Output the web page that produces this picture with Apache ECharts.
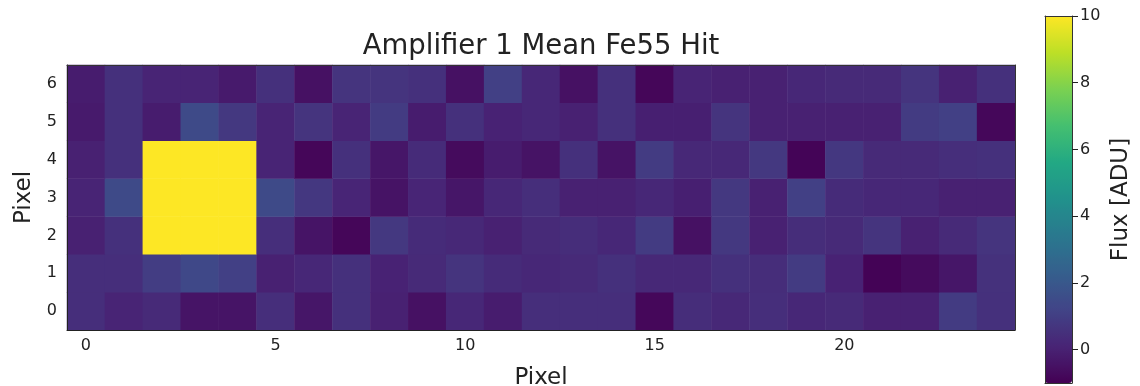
<!DOCTYPE html>
<html>
<head>
<meta charset="utf-8">
<script src="https://cdn.jsdelivr.net/npm/echarts@6/dist/echarts.min.js"></script>
<style>
  html, body { margin: 0; padding: 0; background: #fff; }
  #chart { width: 1140px; height: 386px; }
</style>
</head>
<body>
<div id="chart"></div>
<script>
// pixel indices along each axis
const xPixels = ['0','1','2','3','4','5','6','7','8','9','10','11','12','13','14','15','16','17','18','19','20','21','22','23','24']
const yPixels = ['0','1','2','3','4','5','6']

// mean flux per pixel [ADU], one array per row (row 0 = bottom)
const fluxRow0 = [0.45, 0.1, 0.3, -0.4, -0.4, 0.45, -0.35, 0.5, 0.0, -0.5, 0.2, -0.15, 0.45, 0.45, 0.45, -0.8, 0.4, 0.25, 0.45, 0.2, 0.3, 0.0, 0.0, 0.9, 0.5]
const fluxRow1 = [0.45, 0.45, 0.95, 1.35, 1.05, 0.0, 0.2, 0.5, 0.05, 0.3, 0.65, 0.35, 0.2, 0.3, 0.5, 0.25, 0.25, 0.5, 0.4, 0.9, 0.05, -0.95, -0.7, -0.35, 0.55]
const fluxRow2 = [0.0, 0.5, 10, 10, 10, 0.45, -0.4, -0.85, 0.8, 0.35, 0.25, 0.0, 0.3, 0.4, 0.2, 0.9, -0.5, 0.8, 0.0, 0.4, 0.3, 0.65, 0.0, 0.3, 0.65]
const fluxRow3 = [0.1, 1.45, 10, 10, 10, 1.45, 0.75, 0.15, -0.45, 0.15, -0.35, 0.2, 0.45, 0.0, 0.0, 0.2, -0.05, 0.8, 0.0, 1.05, 0.35, 0.2, 0.2, 0.0, 0.0]
const fluxRow4 = [0.0, 0.5, 10, 10, 10, 0.1, -0.85, 0.5, -0.35, 0.35, -0.7, -0.15, -0.45, 0.5, -0.45, 0.9, 0.25, 0.25, 0.8, -0.9, 0.75, 0.3, 0.3, 0.45, 0.5]
const fluxRow5 = [-0.2, 0.5, -0.15, 1.45, 0.8, 0.1, 0.65, 0.1, 0.9, -0.15, 0.5, 0.05, 0.2, 0.0, 0.5, -0.05, -0.05, 0.65, 0.0, 0.0, 0.0, 0.0, 0.9, 1.05, -0.8]
const fluxRow6 = [-0.15, 0.5, 0.1, 0.1, -0.2, 0.5, -0.5, 0.65, 0.65, 0.5, -0.5, 1.05, 0.2, -0.5, 0.5, -0.85, 0.1, 0.0, 0.0, 0.2, 0.3, 0.3, 0.65, 0.0, 0.5]

const colorbarTicks = [0, 2, 4, 6, 8, 10]
const fluxMin = -1
const fluxMax = 10

const viridis = ['#440154', '#482475', '#414487', '#355f8d', '#2a788e', '#21918c',
  '#22a884', '#44bf70', '#7ad151', '#bddf26', '#fde725']

const rows = [fluxRow0, fluxRow1, fluxRow2, fluxRow3, fluxRow4, fluxRow5, fluxRow6]
const cells = []
rows.forEach((row, y) => {
  row.forEach((v, x) => cells.push([x, y, v]))
})

const font = 'DejaVu Sans'
const ink = '#222'
const everyFifth = (i) => i % 5 === 0

// plain line used for frame edges (no ticks, no labels)
const edge = (extra) => Object.assign({
  z: 10,
  axisLine: { onZero: false, lineStyle: { color: '#333', width: 1 } },
  axisTick: { show: false },
  axisLabel: { show: false },
  splitLine: { show: false },
}, extra)

const chart = echarts.init(document.getElementById('chart'))

chart.setOption({
  backgroundColor: '#fff',
  animation: false,
  title: {
    text: 'Amplifier 1 Mean Fe55 Hit',
    left: 536,
    textAlign: 'center',
    top: 28,
    textStyle: { fontFamily: font, fontSize: 27.5, fontWeight: 'normal', color: ink },
  },
  grid: [
    { left: 67, top: 65, width: 948, height: 265, outerBoundsMode: 'none' },
    { left: 1045, top: 16, width: 27, height: 367, outerBoundsMode: 'none' },
  ],
  xAxis: [
    {
      gridIndex: 0,
      type: 'category',
      data: xPixels,
      position: 'bottom',
      z: 5,
      axisLine: { lineStyle: { color: ink, width: 1 } },
      axisTick: { interval: everyFifth, alignWithLabel: true, length: 6, lineStyle: { color: ink } },
      axisLabel: { interval: everyFifth, fontFamily: font, fontSize: 16, color: ink, margin: 8 },
      splitLine: { show: false },
      name: 'Pixel',
      nameLocation: 'middle',
      nameGap: 37,
      nameTextStyle: { fontFamily: font, fontSize: 23, color: ink },
    },
    edge({ gridIndex: 0, type: 'category', data: xPixels, position: 'top' }),
    edge({ gridIndex: 1, type: 'value', min: 0, max: 1, position: 'bottom' }),
    edge({ gridIndex: 1, type: 'value', min: 0, max: 1, position: 'top' }),
  ],
  yAxis: [
    {
      gridIndex: 0,
      type: 'category',
      data: yPixels,
      position: 'left',
      z: 5,
      axisLine: { lineStyle: { color: ink, width: 1 } },
      axisTick: { alignWithLabel: true, length: 6, lineStyle: { color: ink } },
      axisLabel: { fontFamily: font, fontSize: 16, color: ink, margin: 10 },
      splitLine: { show: false },
      name: 'Pixel',
      nameLocation: 'middle',
      nameRotate: 90,
      nameGap: 28,
      nameTextStyle: { fontFamily: font, fontSize: 23, color: ink },
    },
    edge({ gridIndex: 0, type: 'category', data: yPixels, position: 'right' }),
    {
      gridIndex: 1,
      type: 'value',
      min: fluxMin,
      max: fluxMax,
      position: 'right',
      z: 10,
      axisLine: { onZero: false, lineStyle: { color: '#333', width: 1 } },
      axisTick: { customValues: colorbarTicks, length: 6, lineStyle: { color: ink } },
      axisLabel: { customValues: colorbarTicks, fontFamily: font, fontSize: 16, color: ink, margin: 8 },
      splitLine: { show: false },
      name: 'Flux [ADU]',
      nameLocation: 'middle',
      nameRotate: 90,
      nameGap: 38,
      nameTextStyle: { fontFamily: font, fontSize: 23, color: ink },
    },
    edge({ gridIndex: 1, type: 'value', min: fluxMin, max: fluxMax, position: 'left' }),
  ],
  visualMap: {
    type: 'continuous',
    min: fluxMin,
    max: fluxMax,
    dimension: 2,
    seriesIndex: 0,
    calculable: false,
    orient: 'vertical',
    left: 1045,
    top: 16,
    padding: 0,
    z: 1,
    itemWidth: 27,
    itemHeight: 367,
    text: null,
    inRange: { color: viridis },
  },
  series: [
    {
      type: 'heatmap',
      xAxisIndex: 0,
      yAxisIndex: 0,
      data: cells,
      emphasis: { disabled: true },
    },
  ],
})
</script>
</body>
</html>
